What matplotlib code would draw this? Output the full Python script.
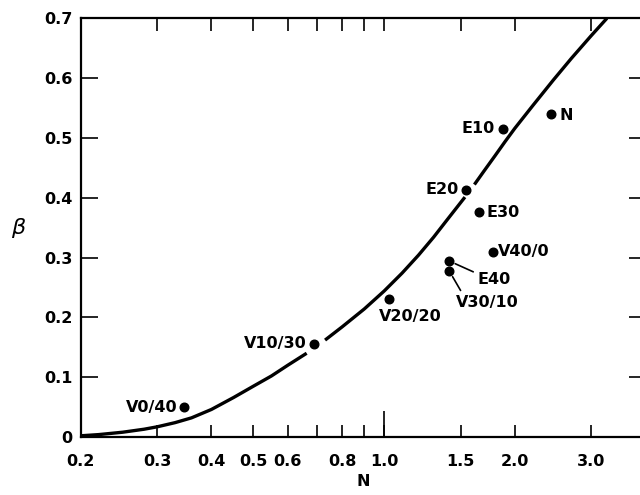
import numpy as np
import matplotlib
matplotlib.use("Agg")
import matplotlib.pyplot as plt
from matplotlib.ticker import FixedLocator, FixedFormatter, NullFormatter

# ---------------- data ----------------
curve_N = [0.20, 0.22, 0.25, 0.28, 0.30, 0.33, 0.36, 0.40, 0.45, 0.50, 0.55, 0.60, 0.663,
           0.731, 0.80, 0.90, 1.00, 1.10, 1.20, 1.30, 1.40, 1.535,
           1.614, 1.70, 1.80, 1.90, 2.00, 2.20, 2.455, 2.70, 3.00, 3.26]
curve_beta = [0.002, 0.004, 0.008, 0.013, 0.017, 0.024, 0.032, 0.046, 0.066, 0.085, 0.102, 0.120, 0.140,
              0.162, 0.184, 0.214, 0.244, 0.274, 0.304, 0.334, 0.364, 0.401,
              0.422, 0.445, 0.470, 0.494, 0.516, 0.554, 0.597, 0.633, 0.671, 0.700]
# N values where the drawn curve is interrupted (pen lifted near labels)
pen_lifts = [0.70, 1.575]

point_names = ["V0/40", "V10/30", "V20/20", "V30/10", "V40/0",
               "E10", "E20", "E30", "E40", "N"]
point_N = [0.346, 0.69, 1.028, 1.414, 1.78, 1.88, 1.54, 1.657, 1.414, 2.42]
point_beta = [0.050, 0.156, 0.230, 0.277, 0.310, 0.515, 0.413, 0.376, 0.294, 0.540]

x_tick_values = [0.2, 0.3, 0.4, 0.5, 0.6, 0.7, 0.8, 0.9, 1.0, 1.5, 2.0, 3.0]
x_tick_labels = ["0.2", "0.3", "0.4", "0.5", "0.6", "", "0.8", "", "1.0", "1.5", "2.0", "3.0"]
y_tick_values = [0.0, 0.1, 0.2, 0.3, 0.4, 0.5, 0.6, 0.7]
y_tick_labels = ["0", "0.1", "0.2", "0.3", "0.4", "0.5", "0.6", "0.7"]

# ---------------- style ----------------
label_style = {  # offset (points), ha, va, leader line relpos or None
    "V0/40": ((-4.5, 0), "right", "center", None),
    "V10/30": ((-5.5, 0), "right", "center", None),
    "V20/20": ((-7.5, -12.5), "left", "center", None),
    "V30/10": ((4.5, -22.5), "left", "center", (0.12, 1.0)),
    "V40/0": ((4.0, 0), "left", "center", None),
    "E10": ((-6.0, 0), "right", "center", None),
    "E20": ((-5.0, 0), "right", "center", None),
    "E30": ((5.5, 0), "left", "center", None),
    "E40": ((20.5, -13), "left", "center", (0.0, 0.85)),
    "N": ((6.0, -1), "left", "center", None),
}
FONT = dict(family="DejaVu Sans", fontweight="bold")
FS = 11.5

fig = plt.figure(figsize=(6.4, 4.95), dpi=100)
ax = fig.add_axes([0.1261, 0.1172, 0.8825, 0.8459])
ax.set_xscale("log")
ax.set_xlim(0.2, 4.0)
ax.set_ylim(0.0, 0.7)

# curve, split where the pen was lifted
cN = np.array(curve_N)
cB = np.array(curve_beta)
edges = [0.0] + pen_lifts + [np.inf]
for lo, hi in zip(edges[:-1], edges[1:]):
    m = (cN >= lo) & (cN < hi)
    ax.plot(cN[m], cB[m], color="black", lw=2.4, solid_capstyle="butt",
            solid_joinstyle="round", zorder=2)

ax.plot(point_N, point_beta, "o", color="black", ms=6.2, zorder=3, linestyle="none")

for name, n, b in zip(point_names, point_N, point_beta):
    off, ha, va, rel = label_style[name]
    if rel is None:
        ax.annotate(name, (n, b), xytext=off, textcoords="offset points",
                    ha=ha, va=va, fontsize=FS, **FONT)
    else:
        ax.annotate(name, (n, b), xytext=off, textcoords="offset points",
                    ha=ha, va=va, fontsize=FS, **FONT,
                    arrowprops=dict(arrowstyle="-", color="black", lw=1.2,
                                    relpos=rel, shrinkA=1.5, shrinkB=4.5))

# ticks
ax.xaxis.remove_overlapping_locs = False
ax.xaxis.set_major_locator(FixedLocator([1.0]))
ax.xaxis.set_major_formatter(NullFormatter())
ax.xaxis.set_minor_locator(FixedLocator(x_tick_values))
ax.xaxis.set_minor_formatter(FixedFormatter(x_tick_labels))
ax.tick_params(axis="x", which="minor", direction="in", length=9, width=1.2,
               top=True, bottom=True, labelsize=FS, pad=12)
ax.tick_params(axis="x", which="major", direction="in", length=19, width=1.2,
               top=False, bottom=True)
ax.set_yticks(y_tick_values)
ax.set_yticklabels(y_tick_labels)
ax.tick_params(axis="y", direction="in", length=12, width=1.2, left=True, right=True,
               labelsize=FS, pad=6)
for lab in ax.get_xticklabels(minor=True) + ax.get_yticklabels():
    lab.set_fontweight("bold")

for s in ax.spines.values():
    s.set_linewidth(1.6)

ax.set_xlabel("N", fontsize=FS, fontweight="bold", labelpad=4)
ax.set_ylabel(r"$\beta$", fontsize=16, rotation=0, va="center")
ax.yaxis.set_label_coords(-0.11, 0.5)

fig.savefig("out.png", dpi=100)
